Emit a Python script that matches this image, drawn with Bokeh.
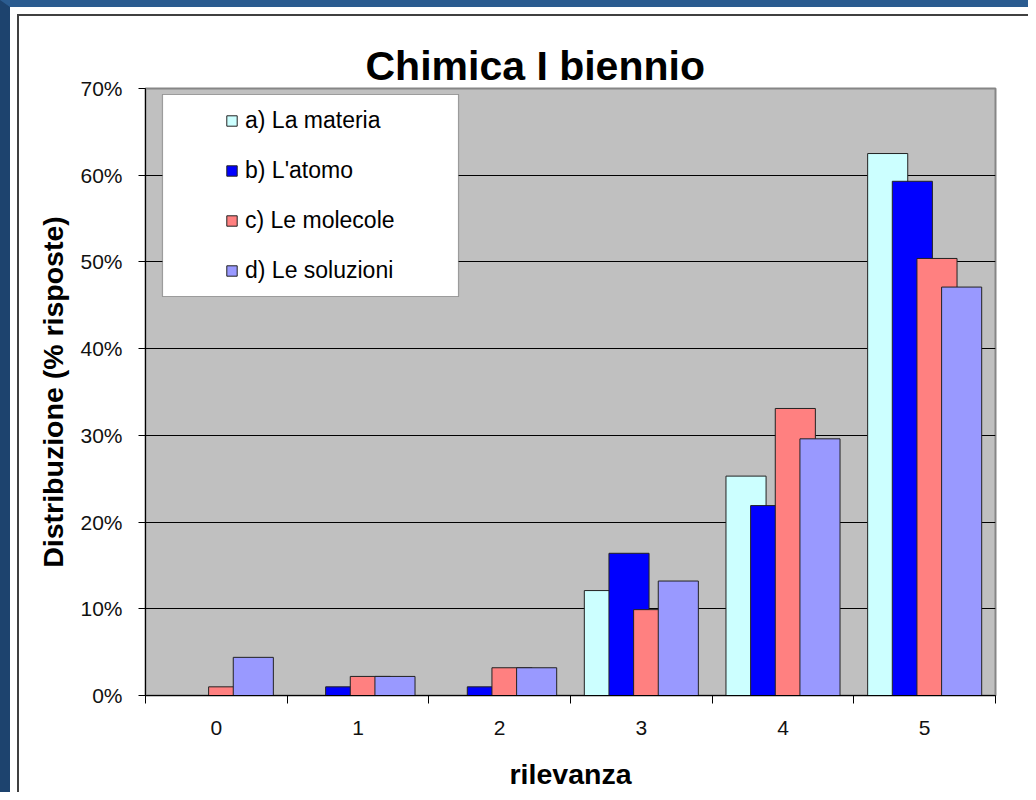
from bokeh.plotting import figure
from bokeh.models import (Legend, LegendItem, FixedTicker, PrintfTickFormatter,
                          BoxAnnotation, Range1d, InlineStyleSheet)
from bokeh.embed import file_html
from bokeh.resources import INLINE

# ---- data ----
categories = ["0", "1", "2", "3", "4", "5"]
series_names = ["a) La materia", "b) L'atomo", "c) Le molecole", "d) Le soluzioni"]
la_materia = [0.0, 0.0, 0.0, 12.1, 25.3, 62.5]
l_atomo = [0.0, 1.0, 1.0, 16.4, 21.9, 59.3]
le_molecole = [1.0, 2.2, 3.2, 9.9, 33.1, 50.4]
le_soluzioni = [4.4, 2.2, 3.2, 13.2, 29.6, 47.1]
y_tick_values = [0, 10, 20, 30, 40, 50, 60, 70]

series = [la_materia, l_atomo, le_molecole, le_soluzioni]
colors = ["#CCFFFF", "#0000FF", "#FF8080", "#9999FF"]
offsets = [-0.261, -0.087, 0.087, 0.261]
bar_width = 0.283
FONT = "Liberation Sans"

css = """
:host { position: relative; }
:host::before {
  content: ""; position: absolute; left: 0; top: 0; right: 0; bottom: 0;
  box-sizing: border-box;
  border-left: 10px solid #1d436e; border-top: 7px solid #2b5c90;
  z-index: 100; pointer-events: none;
}
:host::after {
  content: ""; position: absolute; left: 17px; top: 14px; right: 0; bottom: 0;
  box-sizing: border-box;
  border-left: 2px solid #404040; border-top: 2px solid #404040;
  z-index: 101; pointer-events: none;
}
"""

p = figure(width=1028, height=792, output_backend="svg", toolbar_location=None,
           x_range=Range1d(0, len(categories)), y_range=Range1d(0, 70),
           min_border_left=145, min_border_right=33, min_border_top=88,
           min_border_bottom=97, title="Chimica I biennio",
           stylesheets=[InlineStyleSheet(css=css)])

p.background_fill_color = "#C0C0C0"
p.border_fill_color = "white"
p.outline_line_color = "#868686"
p.outline_line_width = 2

p.title.text_font = FONT
p.title.text_font_size = "41px"
p.title.text_font_style = "bold"
p.title.text_color = "black"
p.title.align = "left"
p.title.offset = 220
p.title.standoff = 0

# grid
p.xgrid.visible = False
p.ygrid.grid_line_color = "black"
p.ygrid.grid_line_width = 1

# y axis
p.yaxis.ticker = FixedTicker(ticks=y_tick_values)
p.yaxis.formatter = PrintfTickFormatter(format="%d%%")
p.yaxis.major_tick_out = 7
p.yaxis.major_tick_in = 0
p.yaxis.minor_tick_out = 0
p.yaxis.minor_tick_in = 0
p.yaxis.major_label_standoff = 16
p.yaxis.major_label_text_font = FONT
p.yaxis.major_label_text_font_size = "21px"
p.yaxis.major_label_text_color = "#111111"
p.yaxis.axis_line_color = "black"
p.yaxis.major_tick_line_color = "black"
p.yaxis.axis_label = "Distribuzione (% risposte)"
p.yaxis.axis_label_text_font = FONT
p.yaxis.axis_label_text_font_size = "28.5px"
p.yaxis.axis_label_text_font_style = "bold"
p.yaxis.axis_label_text_color = "black"
p.yaxis.axis_label_standoff = 8

# x axis: labels at category centres, ticks at boundaries
centers = [i + 0.5 for i in range(len(categories))]
p.xaxis.ticker = FixedTicker(ticks=centers, minor_ticks=list(range(len(categories) + 1)))
p.xaxis.major_label_overrides = {c: lab for c, lab in zip(centers, categories)}
p.xaxis.major_tick_out = 0
p.xaxis.major_tick_in = 0
p.xaxis.minor_tick_out = 8
p.xaxis.minor_tick_in = 0
p.xaxis.minor_tick_line_color = "black"
p.xaxis.axis_line_color = "black"
p.xaxis.major_label_standoff = 17
p.xaxis.major_label_text_font = FONT
p.xaxis.major_label_text_font_size = "21px"
p.xaxis.major_label_text_color = "#111111"
p.xaxis.axis_label = "rilevanza"
p.xaxis.axis_label_text_font = FONT
p.xaxis.axis_label_text_font_size = "28.5px"
p.xaxis.axis_label_text_font_style = "bold"
p.xaxis.axis_label_text_color = "black"
p.xaxis.axis_label_standoff = 20

# bars
renderers = []
for vals, col, off in zip(series, colors, offsets):
    xs = [i + 0.5 + off for i in range(len(categories))]
    r = p.vbar(x=xs, top=vals, bottom=0, width=bar_width, fill_color=col,
               line_color="#222222", line_width=1)
    renderers.append(r)

# legend box
legend_box = BoxAnnotation(left=162, right=458, top=94, bottom=296,
                           left_units="canvas", right_units="canvas",
                           top_units="canvas", bottom_units="canvas",
                           fill_color="white", fill_alpha=1,
                           line_color="black", line_width=1.2)
p.add_layout(legend_box)

legend = Legend(items=[LegendItem(label=n, renderers=[r]) for n, r in zip(series_names, renderers)],
                location=(80, 411), orientation="vertical",
                label_text_font=FONT, label_text_font_size="23px", label_text_color="black",
                glyph_width=13, glyph_height=13, label_standoff=7,
                spacing=23, label_height=25, padding=10, margin=0,
                border_line_color=None, background_fill_alpha=0)
p.add_layout(legend)

open("out.html", "w").write(file_html(p, INLINE))
